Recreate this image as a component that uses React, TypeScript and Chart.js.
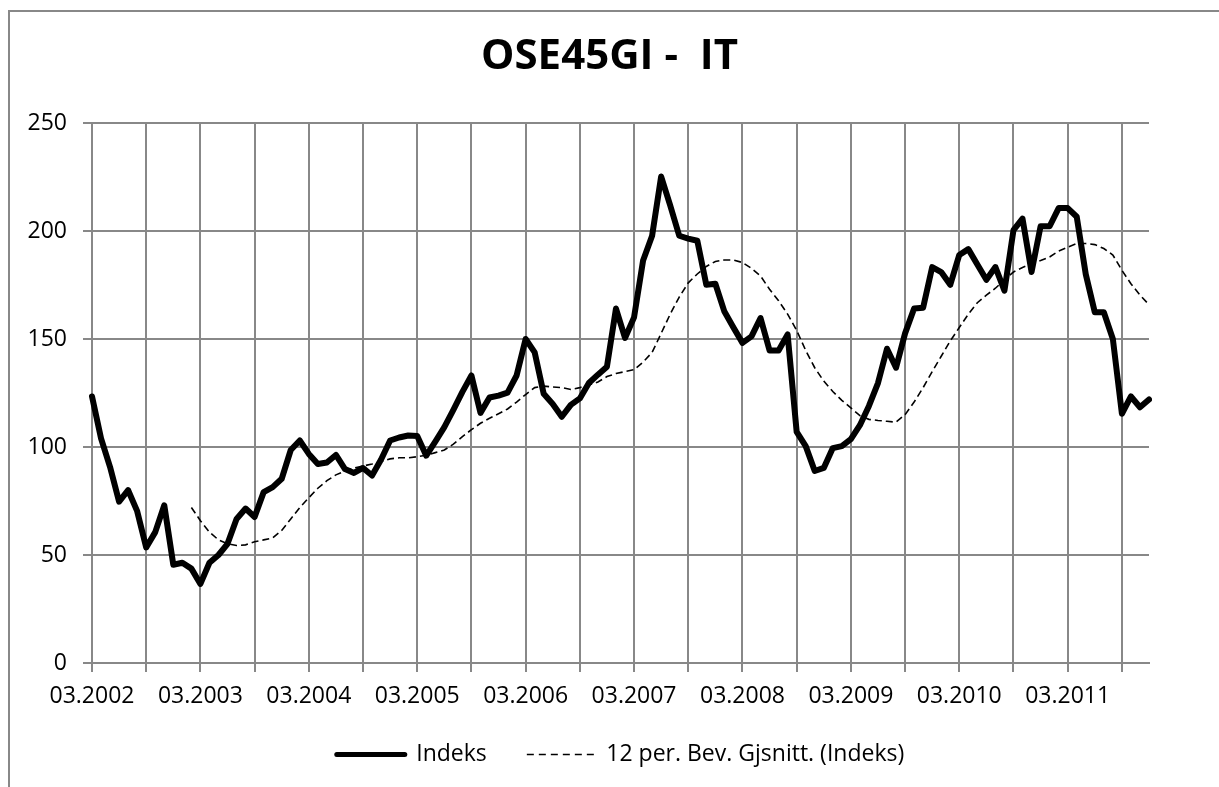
import React, { useEffect, useRef } from "react";
import { Chart, registerables } from "chart.js";

Chart.register(...registerables);

const FONT = "Open Sans";
const GRID = "#888888";

// Monthly categories from 03.2002 to 12.2011
const categories: string[] = [];
for (let i = 0; i < 118; i++) {
  const m = ((2 + i) % 12) + 1;
  const y = 2002 + Math.floor((2 + i) / 12);
  categories.push(String(m).padStart(2, "0") + "." + y);
}

const tickLabels = [
  "03.2002", "03.2003", "03.2004", "03.2005", "03.2006",
  "03.2007", "03.2008", "03.2009", "03.2010", "03.2011",
];

const indeks = [
  123.4, 104, 90.7, 74.7, 80, 70.3, 53.5, 60.6, 73, 45.5, 46.4, 43.7,
  36.6, 46.4, 50, 55.2, 66.7, 71.5, 67.6, 79.1, 81.4, 85.3, 98.6, 103,
  96.8, 92.1, 92.8, 96.3, 89.8, 88, 90.3, 86.8, 94.2, 103, 104.4, 105.3,
  105.1, 96, 102.5, 109.2, 117.2, 125.5, 133.1, 115.8, 122.9, 123.8, 125.2, 133.1,
  150, 143.8, 124.6, 119.9, 114, 119.5, 122.5, 129.6, 133.5, 137.2, 164.1, 150.5,
  160, 186.3, 197.8, 225.2, 211.9, 197.8, 196.5, 195.5, 175.1, 175.6, 162.7, 155.3,
  148.2, 151.2, 159.7, 144.7, 144.7, 152.1, 107, 100.4, 88.9, 90.3, 99.5, 100.4,
  103.6, 110.1, 119, 129.6, 145.5, 136.7, 152.6, 164.1, 164.5, 183.3, 181, 175.1,
  188.9, 191.6, 184.5, 177.4, 183.3, 172.4, 200.4, 205.7, 181, 202.2, 202.2, 210.6,
  210.6, 206.6, 180, 162.4, 162.4, 150, 115.4, 123.4, 118.4, 122,
];

const movingAvg = [
  null, null, null, null, null, null, null, null, null, null, null, 72,
  65.9, 60.6, 57, 55.2, 54.4, 54.7, 56.1, 57, 57.9, 61.4, 66.7, 72,
  76.5, 80.9, 84.4, 87.1, 88.9, 90.3, 91.2, 92.1, 93.3, 94.5, 95, 95,
  95.5, 96.2, 97.4, 98.6, 101.3, 104.8, 108, 111, 113.3, 115.4, 117.6, 120.8,
  124.3, 127.5, 128.2, 127.8, 127.5, 126.6, 127.5, 128.7, 130.1, 132.6, 134, 134.9,
  135.8, 139.3, 143.8, 152.6, 161.5, 169.4, 176, 180.1, 183.6, 185.9, 186.6, 186.6,
  185.4, 182.7, 179.2, 173, 167.7, 161.5, 154, 144.7, 136.7, 130.5, 125.7, 121.6,
  118.1, 114.5, 112.8, 112.3, 111.9, 111.5, 115, 120.8, 127.5, 134.9, 142, 149.1,
  155.3, 161.5, 166.8, 170.3, 173.5, 177.4, 181, 183.1, 184.8, 186.3, 188, 190.7,
  192.5, 194.2, 194.2, 193.7, 191.9, 188.9, 181.8, 175.6, 170.3, 165.9,
];

const seriesNames = ["Indeks", "12 per. Bev. Gjsnitt. (Indeks)"];

const framePlugin = {
  id: "frame",
  beforeDraw(chart: any) {
    const c = chart.ctx;
    c.save();
    c.strokeStyle = GRID;
    c.lineWidth = 2;
    c.strokeRect(9, 11, 1400, 1000);
    c.restore();
  },
};

export default function App() {
  const ref = useRef<HTMLCanvasElement | null>(null);

  useEffect(() => {
    document.body.style.margin = "0";
    if (!ref.current) return;
    const chart = new Chart(ref.current, {
      type: "line",
      data: {
        labels: categories,
        datasets: [
          {
            label: seriesNames[0],
            data: indeks,
            borderColor: "#000000",
            backgroundColor: "#000000",
            borderWidth: 6,
            pointRadius: 0,
            pointBorderWidth: 6,
            pointHoverRadius: 0,
            tension: 0,
            borderJoinStyle: "round",
            borderCapStyle: "round",
            fill: false,
          },
          {
            label: seriesNames[1],
            data: movingAvg,
            borderColor: "#000000",
            backgroundColor: "#000000",
            borderWidth: 1.6,
            borderDash: [7, 4],
            pointRadius: 0,
            pointBorderWidth: 1.6,
            pointHoverRadius: 0,
            tension: 0,
            fill: false,
          },
        ],
      },
      options: {
        responsive: false,
        animation: false,
        events: [],
        layout: { padding: { left: 0, right: 0, top: 0, bottom: 11 } },
        plugins: {
          title: {
            display: true,
            text: "OSE45GI -  IT",
            color: "#000000",
            font: { family: FONT, size: 42, weight: "bold", lineHeight: 1.2 },
            padding: { top: 32, bottom: 40.6 },
          },
          legend: {
            display: true,
            position: "bottom",
            fullSize: false,
            labels: {
              usePointStyle: true,
              pointStyle: "line",
              pointStyleWidth: 68,
              padding: 40,
              color: "#000000",
              font: { family: FONT, size: 23 },
              generateLabels: (ch: any) => {
                const items = (Chart as any).defaults.plugins.legend.labels.generateLabels(ch);
                items.forEach((it: any, i: number) => {
                  it.pointStyle = "line";
                  it.strokeStyle = "#000000";
                  if (i === 0) {
                    it.lineWidth = 5;
                    it.lineCap = "round";
                    it.lineDash = [];
                  } else {
                    it.lineWidth = 1.5;
                    it.lineCap = "butt";
                    it.lineDash = [7, 5];
                  }
                });
                return items;
              },
            },
          },
          tooltip: { enabled: false },
        },
        scales: {
          x: {
            type: "category",
            grid: {
              color: (ctx: any) => (ctx.index % 6 === 0 ? GRID : "rgba(0,0,0,0)"),
              lineWidth: 2,
              tickLength: 9,
            },
            border: { color: GRID, width: 2 },
            ticks: {
              autoSkip: false,
              maxRotation: 0,
              minRotation: 0,
              padding: 11,
              color: "#000000",
              font: { family: FONT, size: 23 },
              callback: (_v: any, i: number) => (i % 12 === 0 ? tickLabels[i / 12] : ""),
            },
            afterFit: (s: any) => {
              s.height = 40;
            },
          },
          y: {
            type: "linear",
            min: 0,
            max: 250,
            grid: { color: GRID, lineWidth: 2, tickLength: 9 },
            border: { color: GRID, width: 2 },
            ticks: {
              stepSize: 50,
              padding: 16,
              color: "#000000",
              font: { family: FONT, size: 23 },
            },
            afterFit: (s: any) => {
              s.width = 92;
            },
          },
          yRight: {
            type: "linear",
            position: "right",
            display: true,
            grid: { display: false, drawTicks: false },
            border: { display: false },
            ticks: { display: false },
            afterFit: (s: any) => {
              s.width = 70;
            },
          },
        },
      },
      plugins: [framePlugin],
    } as any);
    return () => chart.destroy();
  }, []);

  return (
    <div style={{ position: "fixed", left: 0, top: 0, width: 1219, height: 787, background: "#fff" }}>
      <canvas ref={ref} width={1219} height={787} style={{ display: "block" }} />
    </div>
  );
}
